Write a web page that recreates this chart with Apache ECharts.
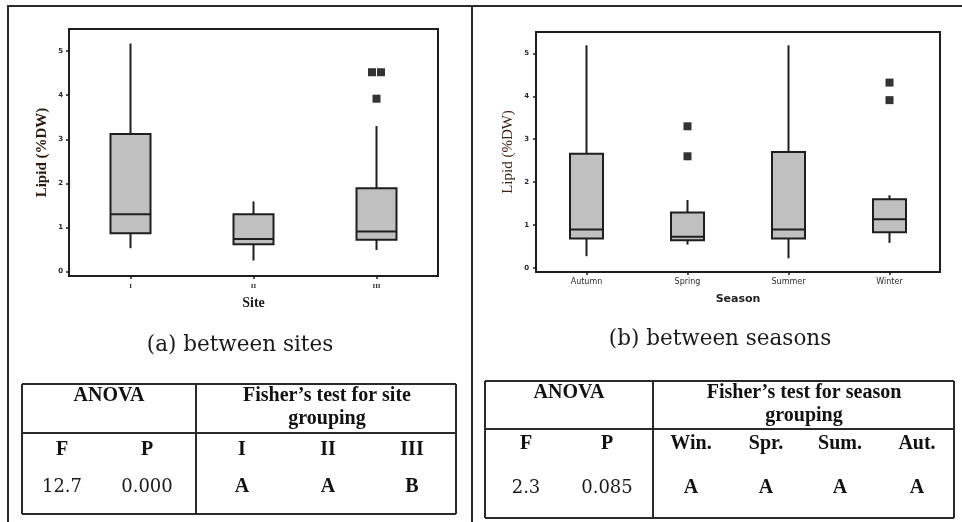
<!DOCTYPE html>
<html>
<head>
<meta charset="utf-8">
<script src="https://cdn.jsdelivr.net/npm/echarts@6/dist/echarts.min.js"></script>
<style>
  html, body { margin: 0; padding: 0; background: #fff; }
  #chart { width: 962px; height: 522px; }
</style>
</head>
<body>
<div id="chart"></div>
<script>
// Lipid content (% dry weight) – box summaries: [min, Q1, median, Q3, max]
const siteCats = ['I', 'II', 'III'];
const siteBox = [
  [0.53, 0.87, 1.30, 3.12, 5.17],
  [0.25, 0.62, 0.74, 1.30, 1.59],
  [0.49, 0.72, 0.91, 1.89, 3.30]
];
// outliers: [category index, value]
const siteOutliers = [[2, 4.52], [2, 4.52], [2, 3.92]];

const seasonCats = ['Autumn', 'Spring', 'Summer', 'Winter'];
const seasonBox = [
  [0.27, 0.68, 0.89, 2.66, 5.19],
  [0.54, 0.64, 0.72, 1.29, 1.58],
  [0.22, 0.68, 0.89, 2.70, 5.19],
  [0.58, 0.83, 1.13, 1.60, 1.69]
];
const seasonOutliers = [[1, 3.30], [1, 2.60], [3, 4.32], [3, 3.91]];

const yTicks = [0, 1, 2, 3, 4, 5];

// ANOVA and Fisher grouping tables
const siteAnovaHead = ['F', 'P'];
const siteAnova = ['12.7', '0.000'];
const siteGroupHead = ['I', 'II', 'III'];
const siteGroups = ['A', 'A', 'B'];

const seasonAnovaHead = ['F', 'P'];
const seasonAnova = ['2.3', '0.085'];
const seasonGroupHead = ['Win.', 'Spr.', 'Sum.', 'Aut.'];
const seasonGroups = ['A', 'A', 'A', 'A'];

const INK = '#1e1e1e';
const BOX_FILL = '#c0c0c0';
const SERIF = '"Liberation Serif", "DejaVu Serif", serif';
const WIDE_SERIF = '"DejaVu Serif", "Liberation Serif", serif';
const SANS = '"DejaVu Sans", "Liberation Sans", sans-serif';

function boxRenderer(boxW) {
  return function (params, api) {
    const c = api.value(0);
    const lo = api.coord([c, api.value(1)]);
    const q1 = api.coord([c, api.value(2)]);
    const md = api.coord([c, api.value(3)]);
    const q3 = api.coord([c, api.value(4)]);
    const hi = api.coord([c, api.value(5)]);
    const x = lo[0];
    const ls = { stroke: INK, lineWidth: 2 };
    return {
      type: 'group',
      children: [
        { type: 'line', shape: { x1: x, y1: hi[1], x2: x, y2: q3[1] }, style: ls },
        { type: 'line', shape: { x1: x, y1: q1[1], x2: x, y2: lo[1] }, style: ls },
        { type: 'rect', shape: { x: x - boxW / 2, y: q3[1], width: boxW, height: q1[1] - q3[1] },
          style: { fill: BOX_FILL, stroke: INK, lineWidth: 2 } },
        { type: 'line', shape: { x1: x - boxW / 2, y1: md[1], x2: x + boxW / 2, y2: md[1] }, style: ls }
      ]
    };
  };
}

function boxData(rows) {
  return rows.map((r, i) => [i].concat(r));
}

function yAxisCfg(gridIndex, nameFont, nameColor, nameGap, labelFont, labelMargin) {
  return {
    type: 'value', gridIndex: gridIndex, min: -0.1, max: 5.5,
    name: 'Lipid (%DW)', nameLocation: 'middle', nameRotate: 90, nameGap: nameGap,
    nameTextStyle: Object.assign({ color: nameColor }, nameFont),
    splitLine: { show: false },
    axisLine: { show: true, onZero: false, lineStyle: { color: INK, width: 2 } },
    axisTick: { show: true, customValues: yTicks, length: 3, lineStyle: { color: INK, width: 1.5 } },
    axisLabel: Object.assign({ customValues: yTicks, margin: labelMargin, color: '#2a2a2a' }, labelFont)
  };
}

function xAxisCfg(gridIndex, cats, name, nameFont, nameGap, labelFont, labelMargin) {
  return {
    type: 'category', gridIndex: gridIndex, data: cats, position: 'bottom',
    name: name, nameLocation: 'middle', nameGap: nameGap,
    nameTextStyle: Object.assign({ color: INK }, nameFont),
    axisLine: { show: true, onZero: false, lineStyle: { color: INK, width: 2 } },
    axisTick: { show: true, alignWithLabel: true, length: 3, lineStyle: { color: INK, width: 1.5 } },
    axisLabel: Object.assign({ margin: labelMargin, color: '#2a2a2a' }, labelFont),
    splitLine: { show: false }
  };
}

// ---- table / frame graphics ----
function hline(x1, x2, y, w) {
  return { type: 'line', silent: true, shape: { x1: x1, y1: y, x2: x2, y2: y }, style: { stroke: '#2a2a2a', lineWidth: w || 2 } };
}
function vline(x, y1, y2, w) {
  return { type: 'line', silent: true, shape: { x1: x, y1: y1, x2: x, y2: y2 }, style: { stroke: '#2a2a2a', lineWidth: w || 2 } };
}
function txt(s, x, y, font, color) {
  return {
    type: 'text', silent: true, x: x, y: y,
    style: { text: s, font: font, fill: color || '#111', align: 'center', verticalAlign: 'middle',
             textAlign: 'center', textVerticalAlign: 'middle' }
  };
}

function table(t) {
  const els = [];
  els.push(hline(t.x0, t.x1, t.y0));
  els.push(hline(t.x0, t.x1, t.y1));
  els.push(hline(t.x0, t.x1, t.yh));
  els.push(vline(t.x0, t.y0, t.y1));
  els.push(vline(t.x1, t.y0, t.y1));
  els.push(vline(t.xd, t.y0, t.y1));
  const hb = 'bold 20px ' + SERIF;
  els.push(txt('ANOVA', t.anovaX, t.headY, hb));
  t.fisherLines.forEach((s, i) => els.push(txt(s, t.fisherX, t.headY + i * 23, hb)));
  t.anovaHead.forEach((s, i) => els.push(txt(s, t.anovaCols[i], t.subY, hb)));
  t.anovaVals.forEach((s, i) => els.push(txt(s, t.anovaCols[i], t.valY, '18px ' + WIDE_SERIF, '#1a1a1a')));
  t.groupHead.forEach((s, i) => els.push(txt(s, t.groupCols[i], t.subY, hb)));
  t.groupVals.forEach((s, i) => els.push(txt(s, t.groupCols[i], t.valY, 'bold 20px ' + SERIF)));
  return els;
}

const graphics = [
  // panel rules
  hline(7, 962, 6),
  vline(8, 5, 522),
  vline(472, 5, 522),
  // captions
  txt('(a) between sites', 240, 345, '21.5px ' + WIDE_SERIF, '#1a1a1a'),
  txt('(b) between seasons', 720, 339, '21.5px ' + WIDE_SERIF, '#1a1a1a')
].concat(
  table({
    x0: 22, x1: 456, y0: 384, y1: 514, xd: 196, yh: 433,
    anovaX: 109, fisherX: 327, headY: 396,
    fisherLines: ['Fisher\u2019s test for site', 'grouping'],
    subY: 450, valY: 487,
    anovaHead: siteAnovaHead, anovaVals: siteAnova, anovaCols: [62, 147],
    groupHead: siteGroupHead, groupVals: siteGroups, groupCols: [242, 328, 412]
  }),
  table({
    x0: 485, x1: 954, y0: 381, y1: 518, xd: 653, yh: 429,
    anovaX: 569, fisherX: 804, headY: 393,
    fisherLines: ['Fisher\u2019s test for season', 'grouping'],
    subY: 444, valY: 488,
    anovaHead: seasonAnovaHead, anovaVals: seasonAnova, anovaCols: [526, 607],
    groupHead: seasonGroupHead, groupVals: seasonGroups, groupCols: [691, 766, 840, 917]
  })
);

const chart = echarts.init(document.getElementById('chart'), null, { renderer: 'canvas' });
chart.setOption({
  animation: false,
  backgroundColor: '#fff',
  grid: [
    { left: 69, top: 29, width: 369, height: 247, show: true, borderColor: INK, borderWidth: 2, backgroundColor: 'transparent' },
    { left: 536, top: 32, width: 404, height: 240, show: true, borderColor: INK, borderWidth: 2, backgroundColor: 'transparent' }
  ],
  xAxis: [
    xAxisCfg(0, siteCats, 'Site', { fontFamily: SERIF, fontWeight: 'bold', fontSize: 14 }, 20,
      { fontFamily: SERIF, fontWeight: 'bold', fontSize: 7 }, 7),
    xAxisCfg(1, seasonCats, 'Season', { fontFamily: SANS, fontWeight: 'bold', fontSize: 11 }, 22,
      { fontFamily: SANS, fontSize: 8 }, 6)
  ],
  yAxis: [
    yAxisCfg(0, { fontFamily: SERIF, fontWeight: 'bold', fontSize: 15 }, '#2a1a10', 19,
      { fontFamily: SANS, fontWeight: 'bold', fontSize: 7 }, 6),
    yAxisCfg(1, { fontFamily: SERIF, fontSize: 15 }, '#3a2418', 20,
      { fontFamily: SANS, fontWeight: 'bold', fontSize: 7 }, 7)
  ],
  series: [
    {
      type: 'custom', name: 'Site', xAxisIndex: 0, yAxisIndex: 0,
      renderItem: boxRenderer(40),
      encode: { x: 0, y: [1, 2, 3, 4, 5] },
      data: boxData(siteBox)
    },
    {
      type: 'scatter', xAxisIndex: 0, yAxisIndex: 0, symbol: 'rect', symbolSize: 8,
      itemStyle: { color: '#000' },
      data: siteOutliers.map((p, i) => ({
        value: p,
        symbolOffset: i === 0 ? [-4.5, 0] : (i === 1 ? [4.5, 0] : [0, 0])
      }))
    },
    {
      type: 'custom', name: 'Season', xAxisIndex: 1, yAxisIndex: 1,
      renderItem: boxRenderer(33),
      encode: { x: 0, y: [1, 2, 3, 4, 5] },
      data: boxData(seasonBox)
    },
    {
      type: 'scatter', xAxisIndex: 1, yAxisIndex: 1, symbol: 'rect', symbolSize: 8,
      itemStyle: { color: '#000' },
      data: seasonOutliers
    }
  ],
  graphic: graphics
});
</script>
</body>
</html>
